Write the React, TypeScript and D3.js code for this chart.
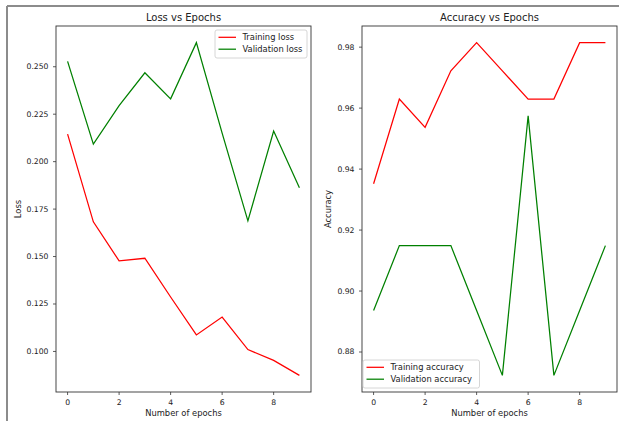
import React from "react";
import * as d3 from "d3";

const epochs = [0, 1, 2, 3, 4, 5, 6, 7, 8, 9];
const trainingLoss = [0.2145, 0.1683, 0.1477, 0.1491, 0.1287, 0.1087, 0.1181, 0.101, 0.0953, 0.0874];
const validationLoss = [0.2528, 0.2092, 0.2295, 0.2468, 0.2331, 0.2627, 0.2150, 0.1688, 0.2161, 0.1862];
const trainingAcc = [101, 104, 103, 105, 106, 105, 104, 104, 106, 106].map((v) => v / 108);
const validationAcc = [42, 43, 43, 43, 42, 41, 45, 41, 42, 43].map((v) => v / 47);
const xTicks = [0, 2, 4, 6, 8];
const lossTicks = [0.1, 0.125, 0.15, 0.175, 0.2, 0.225, 0.25];
const accTicks = [0.88, 0.9, 0.92, 0.94, 0.96, 0.98];

const FONT = "DejaVu Sans, sans-serif";
const TICK_FS = 7.7;
const LABEL_FS = 8.35;
const TITLE_FS = 10;

type PanelProps = {
  x0: number;
  x1: number;
  title: string;
  ylabel: string;
  ylabelX: number;
  series: { name: string; values: number[]; color: string }[];
  yTicks: number[];
  yFmt: (v: number) => string;
  legend: { x: number; y: number; w: number };
};

function Panel({ x0, x1, title, ylabel, ylabelX, series, yTicks, yFmt, legend }: PanelProps) {
  const y0 = 26;
  const y1 = 392;
  const x = d3.scaleLinear().domain([-0.45, 9.45]).range([x0, x1]);
  const all = series.flatMap((s) => s.values);
  const mn = d3.min(all)!;
  const mx = d3.max(all)!;
  const m = (mx - mn) * 0.05;
  const y = d3.scaleLinear().domain([mn - m, mx + m]).range([y1, y0]);
  const line = d3
    .line<number>()
    .x((_, i) => x(epochs[i]))
    .y((d) => y(d));
  const cx = (x0 + x1) / 2;
  return (
    <g fontFamily={FONT}>
      <rect x={x0} y={y0} width={x1 - x0} height={y1 - y0} fill="white" />
      {series.map((s) => (
        <path key={s.name} d={line(s.values)!} fill="none" stroke={s.color} strokeWidth={1.25} />
      ))}
      <rect x={x0} y={y0} width={x1 - x0} height={y1 - y0} fill="none" stroke="#333" strokeWidth={0.9} />
      {yTicks.map((t) => (
        <g key={t}>
          <line x1={x0 - 3} x2={x0} y1={y(t)} y2={y(t)} stroke="#333" strokeWidth={0.8} />
          <text x={x0 - 7.5} y={y(t)} dy="0.32em" textAnchor="end" fontSize={TICK_FS} fill="#222">
            {yFmt(t)}
          </text>
        </g>
      ))}
      {xTicks.map((t) => (
        <g key={t}>
          <line x1={x(t)} x2={x(t)} y1={y1} y2={y1 + 3} stroke="#333" strokeWidth={0.8} />
          <text x={x(t)} y={404.5} textAnchor="middle" fontSize={TICK_FS} fill="#222">
            {t}
          </text>
        </g>
      ))}
      <text x={cx} y={416} textAnchor="middle" fontSize={LABEL_FS} fill="#222">
        Number of epochs
      </text>
      <text
        transform={`translate(${ylabelX},${(y0 + y1) / 2}) rotate(-90)`}
        textAnchor="middle"
        fontSize={LABEL_FS}
        fill="#222"
      >
        {ylabel}
      </text>
      <text x={cx} y={20.5} textAnchor="middle" fontSize={TITLE_FS} fill="#222">
        {title}
      </text>
      <g transform={`translate(${legend.x},${legend.y})`}>
        <rect x={0} y={0} width={legend.w} height={28} rx={2} fill="white" fillOpacity={0.8} stroke="#ccc" strokeWidth={0.8} />
        {series.map((s, i) => (
          <g key={s.name} transform={`translate(0,${7.3 + i * 11.9})`}>
            <line x1={3.5} x2={21} y1={0} y2={0} stroke={s.color} strokeWidth={1.25} />
            <text x={27.5} y={0} dy="0.34em" fontSize={LABEL_FS} fill="#222">
              {s.name}
            </text>
          </g>
        ))}
      </g>
    </g>
  );
}

export default function App() {
  return (
    <svg
      width={619}
      height={421}
      style={{ position: "absolute", left: 0, top: 0, background: "white" }}
    >
      <rect x={0} y={0} width={619} height={421} fill="white" />
      <line x1={7} x2={619} y1={6} y2={6} stroke="#8c8c8c" strokeWidth={2} />
      <line x1={7} x2={7} y1={6} y2={421} stroke="#8c8c8c" strokeWidth={2} />
      <Panel
        x0={56}
        x1={311}
        title="Loss vs Epochs"
        ylabel="Loss"
        ylabelX={21}
        series={[
          { name: "Training loss", values: trainingLoss, color: "#ff0000" },
          { name: "Validation loss", values: validationLoss, color: "#008000" },
        ]}
        yTicks={lossTicks}
        yFmt={d3.format(".3f")}
        legend={{ x: 215, y: 30, w: 92 }}
      />
      <Panel
        x0={362}
        x1={617}
        title="Accuracy vs Epochs"
        ylabel="Accuracy"
        ylabelX={331}
        series={[
          { name: "Training accuracy", values: trainingAcc, color: "#ff0000" },
          { name: "Validation accuracy", values: validationAcc, color: "#008000" },
        ]}
        yTicks={accTicks}
        yFmt={d3.format(".2f")}
        legend={{ x: 363, y: 360, w: 116.5 }}
      />
    </svg>
  );
}
